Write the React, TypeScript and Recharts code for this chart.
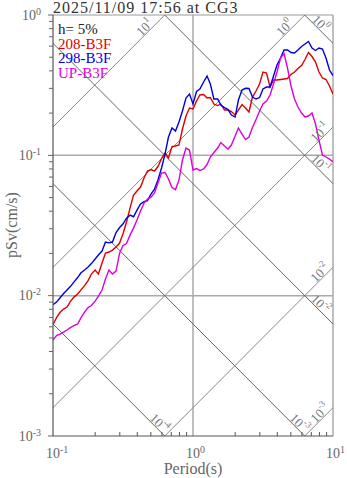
import { ComposedChart, Line, XAxis, YAxis, ReferenceLine, ReferenceDot } from 'recharts';

const periods = [
  0.1, 0.106, 0.112, 0.119, 0.126, 0.133, 0.141, 0.15, 0.158, 0.168,
  0.178, 0.188, 0.2, 0.211, 0.224, 0.237, 0.251, 0.266, 0.282, 0.299,
  0.316, 0.335, 0.355, 0.376, 0.398, 0.422, 0.447, 0.473, 0.501, 0.531,
  0.562, 0.596, 0.631, 0.668, 0.708, 0.75, 0.794, 0.841, 0.891, 0.944,
  1.0, 1.06, 1.12, 1.19, 1.26, 1.33, 1.41, 1.5, 1.58, 1.68,
  1.78, 1.88, 2.0, 2.11, 2.24, 2.37, 2.51, 2.66, 2.82, 2.99,
  3.16, 3.35, 3.55, 3.76, 3.98, 4.22, 4.47, 4.73, 5.01, 5.31,
  5.62, 5.96, 6.31, 6.68, 7.08, 7.5, 7.94, 8.41, 8.91, 9.44, 10.0,
];

// pSv (cm/s), h = 5%
const ch208 = [
  0.00624, 0.00698, 0.00758, 0.00803, 0.00829, 0.00908, 0.00977, 0.01027, 0.01096, 0.0118,
  0.01281, 0.01425, 0.01522, 0.01425, 0.01707, 0.0201, 0.02046, 0.02113, 0.0222, 0.0237,
  0.0275, 0.0335, 0.0421, 0.0521, 0.0557, 0.0594, 0.0689, 0.0773, 0.0792, 0.0773,
  0.0832, 0.0949, 0.1038, 0.0957, 0.1155, 0.1165, 0.1184, 0.154, 0.1906, 0.2173,
  0.2138, 0.2438, 0.2691, 0.2713, 0.2561, 0.2582, 0.232, 0.2264, 0.232, 0.2103,
  0.2103, 0.2052, 0.1937, 0.2103, 0.2302, 0.2173, 0.2035, 0.2603, 0.2873, 0.3223,
  0.3925, 0.3861, 0.3067, 0.3441, 0.3441, 0.347, 0.3499, 0.3528, 0.3766, 0.3925,
  0.4157, 0.4365, 0.4817, 0.5404, 0.506, 0.4624, 0.3925, 0.3556, 0.347, 0.3118, 0.2734,
];

const ch298 = [
  0.00864, 0.009, 0.00962, 0.01035, 0.01096, 0.01161, 0.0125, 0.01346, 0.01449, 0.01522,
  0.016, 0.01693, 0.01823, 0.01947, 0.0208, 0.0241, 0.0238, 0.0241, 0.0282, 0.0306,
  0.0324, 0.0357, 0.0375, 0.0365, 0.0407, 0.045, 0.0467, 0.0476, 0.053, 0.0575,
  0.0667, 0.0812, 0.1021, 0.135, 0.1565, 0.149, 0.1727, 0.2069, 0.2561, 0.2734,
  0.232, 0.2849, 0.2969, 0.3331, 0.3674, 0.3223, 0.252, 0.252, 0.2283, 0.2191,
  0.212, 0.1937, 0.1875, 0.2478, 0.292, 0.3003, 0.2993, 0.2603, 0.252, 0.2582,
  0.2969, 0.3067, 0.3067, 0.3674, 0.44, 0.4938, 0.563, 0.563, 0.5404, 0.536,
  0.563, 0.5963, 0.6215, 0.6476, 0.5818, 0.5585, 0.5818, 0.5724, 0.4938, 0.4055, 0.3705,
];

const chUP = [
  0.00483, 0.0052, 0.00533, 0.0055, 0.00569, 0.00592, 0.00612, 0.00628, 0.00692, 0.00764,
  0.00823, 0.0085, 0.00915, 0.00993, 0.01096, 0.01313, 0.01522, 0.01425, 0.01497, 0.0201,
  0.02276, 0.02351, 0.027, 0.0303, 0.0346, 0.0401, 0.0457, 0.0488, 0.0504, 0.0539,
  0.0635, 0.0748, 0.0754, 0.0678, 0.059, 0.057, 0.0667, 0.0926, 0.1127, 0.1091,
  0.0786, 0.0805, 0.0779, 0.0799, 0.086, 0.0973, 0.1047, 0.1127, 0.1234, 0.1165,
  0.1109, 0.1184, 0.1373, 0.1565, 0.1418, 0.1296, 0.135, 0.1579, 0.18, 0.2069,
  0.232, 0.2438, 0.2691, 0.3223, 0.3925, 0.4938, 0.5315, 0.4192, 0.3118, 0.252,
  0.2209, 0.2002, 0.1875, 0.1906, 0.2002, 0.1671, 0.1285, 0.1005, 0.0973, 0.0941, 0.0896,
];

const seriesNames = ['208-B3F', '298-B3F', 'UP-B3F'];
const seriesColors = ['#dd0000', '#0000dd', '#dd00dd'];

const xTicks = [0.1, 0.2, 0.3, 0.4, 0.5, 0.6, 0.7, 0.8, 0.9, 1, 2, 3, 4, 5, 6, 7, 8, 9, 10];
const yTicks = [
  0.001, 0.002, 0.003, 0.004, 0.005, 0.006, 0.007, 0.008, 0.009,
  0.01, 0.02, 0.03, 0.04, 0.05, 0.06, 0.07, 0.08, 0.09,
  0.1, 0.2, 0.3, 0.4, 0.5, 0.6, 0.7, 0.8, 0.9, 1,
];

// tripartite guides: log10 of pseudo-acceleration (cm/s2) and displacement (cm)
const accExps = [-3, -2, -1, 0, 1];
const dispExps = [-4, -3, -2, -1, 0];

const FONT = '"Liberation Serif", "Times New Roman", serif';
const TWO_PI = 2 * Math.PI;

const rows = periods.map((t, i) => ({ t, a: ch208[i], b: ch298[i], c: chUP[i] }));

const isDecade = (v: number) => Math.abs(Math.log10(v) - Math.round(Math.log10(v))) < 1e-9;

function XTick(props: any) {
  const { x, y, payload } = props;
  const v = payload.value;
  if (!isDecade(v)) {
    return <line x1={x} x2={x} y1={y} y2={y - 4} stroke="#555" />;
  }
  const e = Math.round(Math.log10(v));
  return (
    <text x={x - 7} y={y + 22} fontFamily={FONT} fontSize={14} fill="#666">
      10<tspan dy={-5} fontSize={10}>{e}</tspan>
    </text>
  );
}

function YTick(props: any) {
  const { x, y, payload } = props;
  const v = payload.value;
  const major = isDecade(v);
  const e = Math.round(Math.log10(v));
  return (
    <g>
      <line x1={x - (major ? 5 : 4)} x2={x} y1={y} y2={y} stroke="#666" />
      {major && (
        <text x={41} y={y + 4.5} textAnchor="end" fontFamily={FONT} fontSize={14} fill="#666">
          10<tspan dy={-5} fontSize={10}>{e}</tspan>
        </text>
      )}
    </g>
  );
}

function GuideLabel(props: any) {
  const { cx, cy, exp, kind, edge } = props;
  const s = Math.SQRT1_2;
  const back = kind === 'acc' ? [-1, 1] : [-1, -1];
  const norm = kind === 'acc' ? [-1, -1] : [1, -1];
  const along = (kind === 'acc' && edge === 'top') || (kind === 'disp' && edge === 'right') ? 23 : 13;
  const perp = 5.5;
  const x = cx + (back[0] * along + norm[0] * perp) * s;
  const y = cy + (back[1] * along + norm[1] * perp) * s;
  const angle = kind === 'acc' ? -45 : 45;
  return (
    <text
      x={x}
      y={y}
      transform={`rotate(${angle} ${x} ${y})`}
      textAnchor="middle"
      dominantBaseline="central"
      fontFamily={FONT}
      fontSize={13}
      fill="#777"
    >
      10<tspan dy={-5} fontSize={9}>{exp}</tspan>
    </text>
  );
}

export default function App() {
  const accLines = accExps.map((e) => {
    const a = Math.pow(10, e);
    const edgeV = (a * 10) / TWO_PI;
    const exit = edgeV <= 1 ? { x: 10, y: edgeV, edge: 'right' } : { x: TWO_PI / a, y: 1, edge: 'top' };
    return { e, seg: [{ x: 0.01, y: (a * 0.01) / TWO_PI }, { x: 100, y: (a * 100) / TWO_PI }], exit };
  });
  const dispLines = dispExps.map((e) => {
    const d = Math.pow(10, e);
    const edgeV = (TWO_PI * d) / 10;
    const exit = edgeV >= 0.001 ? { x: 10, y: edgeV, edge: 'right' } : { x: (TWO_PI * d) / 0.001, y: 0.001, edge: 'bottom' };
    return { e, seg: [{ x: 0.01, y: (TWO_PI * d) / 0.01 }, { x: 100, y: (TWO_PI * d) / 100 }], exit };
  });

  return (
    <div style={{ position: 'absolute', left: 0, top: 0, width: 347, height: 478, background: '#fff' }}>
      <ComposedChart width={347} height={478} data={rows} margin={{ top: 15, right: 14, bottom: 0, left: 0 }}>
        <XAxis
          dataKey="t"
          type="number"
          scale="log"
          domain={[0.1, 10]}
          ticks={xTicks}
          interval={0}
          allowDataOverflow
          height={42}
          tickSize={0}
          tickMargin={0}
          tickLine={false}
          axisLine={{ stroke: '#555', strokeWidth: 1.2 }}
          tick={<XTick />}
        />
        <YAxis
          type="number"
          scale="log"
          domain={[0.001, 1]}
          ticks={yTicks}
          interval={0}
          allowDataOverflow
          width={53}
          tickSize={0}
          tickMargin={0}
          tickLine={false}
          axisLine={{ stroke: '#555', strokeWidth: 1.2 }}
          tick={<YTick />}
        />
        <ReferenceLine y={1} stroke="#999" ifOverflow="visible" />
        <ReferenceLine x={10} stroke="#aaa" strokeWidth={1.5} ifOverflow="visible" />
        <ReferenceLine y={0.1} stroke="#aaa" strokeWidth={1.5} />
        <ReferenceLine y={0.01} stroke="#aaa" strokeWidth={1.5} />
        <ReferenceLine x={1} stroke="#aaa" strokeWidth={1.5} />
        {accLines.map((l) => (
          <ReferenceLine key={'a' + l.e} segment={l.seg} ifOverflow="hidden" stroke="#888" strokeWidth={1} />
        ))}
        {dispLines.map((l) => (
          <ReferenceLine key={'d' + l.e} segment={l.seg} ifOverflow="hidden" stroke="#666" strokeWidth={1} />
        ))}
        {accLines.map((l) => (
          <ReferenceDot
            key={'al' + l.e}
            x={l.exit.x}
            y={l.exit.y}
            r={0}
            ifOverflow="visible"
            shape={(p: any) => <GuideLabel cx={p.cx} cy={p.cy} exp={l.e} kind="acc" edge={l.exit.edge} />}
          />
        ))}
        {dispLines.map((l) => (
          <ReferenceDot
            key={'dl' + l.e}
            x={l.exit.x}
            y={l.exit.y}
            r={0}
            ifOverflow="visible"
            shape={(p: any) => <GuideLabel cx={p.cx} cy={p.cy} exp={l.e} kind="disp" edge={l.exit.edge} />}
          />
        ))}
        <Line dataKey="a" name={seriesNames[0]} stroke={seriesColors[0]} strokeWidth={1.4} dot={false} isAnimationActive={false} />
        <Line dataKey="b" name={seriesNames[1]} stroke={seriesColors[1]} strokeWidth={1.4} dot={false} isAnimationActive={false} />
        <Line dataKey="c" name={seriesNames[2]} stroke={seriesColors[2]} strokeWidth={1.4} dot={false} isAnimationActive={false} />
      </ComposedChart>
      <svg width={347} height={478} style={{ position: 'absolute', left: 0, top: 0, pointerEvents: 'none' }}>
        <text x={53} y={12.5} fontFamily={FONT} fontSize={16} letterSpacing={1} fill="#333">2025/11/09 17:56 at CG3</text>
        <text x={58} y={33.5} fontFamily={FONT} fontSize={15} fill="#222">h= 5%</text>
        {seriesNames.map((n, i) => (
          <text key={n} x={58} y={48.5 + i * 14.7} fontFamily={FONT} fontSize={15} fill={seriesColors[i]}>{n}</text>
        ))}
        <text x={193} y={474} textAnchor="middle" fontFamily={FONT} fontSize={16} fill="#666">Period(s)</text>
        <text
          x={11}
          y={225}
          transform="rotate(-90 11 225)"
          textAnchor="middle"
          dominantBaseline="central"
          fontFamily={FONT}
          fontSize={16}
          fill="#666"
        >
          pSv(cm/s)
        </text>
      </svg>
    </div>
  );
}
